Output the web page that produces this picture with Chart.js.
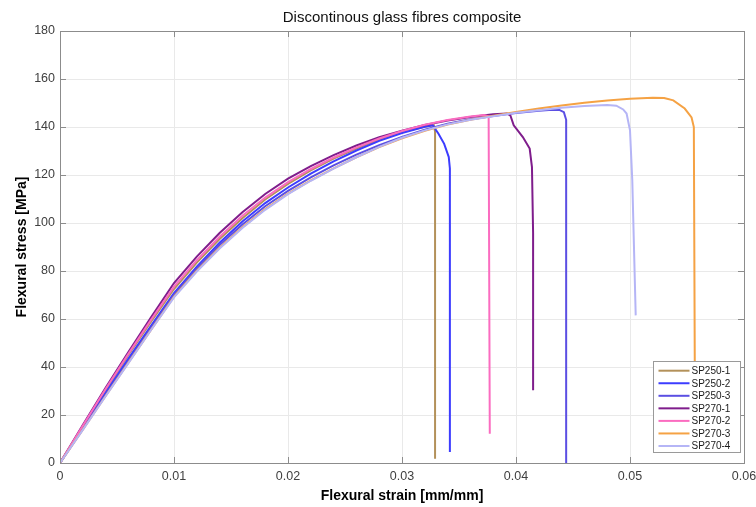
<!DOCTYPE html>
<html>
<head>
<meta charset="utf-8">
<script src="https://cdn.jsdelivr.net/npm/chart.js@4.4.1/dist/chart.umd.min.js"></script>
<style>
  html, body { margin: 0; padding: 0; background: #fff; }
  #wrap { width: 756px; height: 507px; }
</style>
</head>
<body>
<div id="wrap"><canvas id="g_flex"></canvas></div>
<script>
// courbes (deformation [mm/mm], contrainte [MPa])
const labels = ['SP250-1', 'SP250-2', 'SP250-3', 'SP270-1', 'SP270-2', 'SP270-3', 'SP270-4'];
const colors = ['#b3915a', '#3c3cff', '#5b4fe3', '#7f1d8c', '#fb6cc0', '#f5a244', '#b5b5f6'];

const strainSP250_1 = [0, 0.002, 0.004, 0.006, 0.008, 0.010, 0.012, 0.014, 0.016, 0.018, 0.020, 0.022, 0.024, 0.026, 0.028, 0.030, 0.032, 0.0328, 0.0329, 0.0329];
const stressSP250_1 = [0, 15.2, 30.3, 45, 59, 72.5, 83.5, 93.3, 102, 109.8, 116.3, 121.9, 126.8, 131, 134.8, 137.9, 140.1, 140.7, 138, 1.8];

const strainSP250_2 = [0, 0.002, 0.004, 0.006, 0.008, 0.010, 0.012, 0.014, 0.016, 0.018, 0.020, 0.022, 0.024, 0.026, 0.028, 0.030, 0.032, 0.0327, 0.0332, 0.0337, 0.0341, 0.0342, 0.0342];
const stressSP250_2 = [0, 14.6, 29.2, 43.5, 57.3, 70.8, 81.8, 91.8, 100.6, 108.3, 114.8, 120.6, 125.7, 130.2, 134.2, 137.5, 140.1, 140.7, 137.2, 133, 127.5, 122.7, 4.6];

const strainSP250_3 = [0, 0.002, 0.004, 0.006, 0.008, 0.010, 0.012, 0.014, 0.016, 0.018, 0.020, 0.022, 0.024, 0.026, 0.028, 0.030, 0.032, 0.034, 0.036, 0.038, 0.040, 0.042, 0.0432, 0.0438, 0.0442, 0.0444, 0.0444];
const stressSP250_3 = [0, 14.2, 28.4, 42.4, 56.4, 70.2, 81, 90.8, 99.4, 107, 113.4, 119, 124, 128.5, 132.4, 135.9, 138.9, 141.4, 143.2, 144.6, 145.8, 146.8, 147.2, 147.1, 146.2, 143, 0];

const strainSP270_1 = [0, 0.002, 0.004, 0.006, 0.008, 0.010, 0.012, 0.014, 0.016, 0.018, 0.020, 0.022, 0.024, 0.026, 0.028, 0.030, 0.032, 0.034, 0.036, 0.038, 0.0392, 0.0395, 0.0398, 0.0406, 0.0412, 0.0414, 0.0415, 0.0415];
const stressSP270_1 = [0, 15.8, 31.3, 46.2, 60.8, 75, 86, 95.8, 104.5, 112.1, 118.5, 123.7, 128.3, 132.3, 135.7, 138.5, 140.8, 142.7, 144.2, 145.3, 145.6, 144.9, 140.7, 135.8, 131, 123.3, 95.7, 30.3];

const strainSP270_2 = [0, 0.002, 0.004, 0.006, 0.008, 0.010, 0.012, 0.014, 0.016, 0.018, 0.020, 0.022, 0.024, 0.026, 0.028, 0.030, 0.032, 0.034, 0.036, 0.0372, 0.0376, 0.0377];
const stressSP270_2 = [0, 15.5, 30.8, 45.5, 59.8, 73.5, 84.5, 94.3, 103, 110.6, 117, 122.5, 127.3, 131.5, 135.2, 138.3, 140.9, 142.9, 144.4, 145, 144.5, 12.2];

const strainSP270_3 = [0, 0.002, 0.004, 0.006, 0.008, 0.010, 0.012, 0.014, 0.016, 0.018, 0.020, 0.022, 0.024, 0.026, 0.028, 0.030, 0.032, 0.034, 0.036, 0.038, 0.040, 0.042, 0.044, 0.046, 0.048, 0.050, 0.052, 0.0530, 0.0538, 0.0548, 0.0554, 0.0556, 0.0557];
const stressSP270_3 = [0, 13.9, 27.9, 41.8, 55.6, 69.3, 80.1, 89.7, 98.2, 105.8, 112.2, 117.8, 122.8, 127.4, 131.6, 135.3, 138.4, 141, 143, 144.7, 146.3, 147.7, 149, 150.1, 151, 151.8, 152.2, 152.1, 151.1, 147.7, 144, 140, 20];

const strainSP270_4 = [0, 0.002, 0.004, 0.006, 0.008, 0.010, 0.012, 0.014, 0.016, 0.018, 0.020, 0.022, 0.024, 0.026, 0.028, 0.030, 0.032, 0.034, 0.036, 0.038, 0.040, 0.042, 0.044, 0.046, 0.048, 0.0488, 0.0494, 0.0497, 0.0500, 0.0502, 0.0505];
const stressSP270_4 = [0, 13.8, 27.8, 41.6, 55.5, 69, 79.8, 89.4, 97.9, 105.5, 112, 117.6, 122.7, 127.4, 131.7, 135.5, 138.6, 141.1, 143, 144.5, 145.9, 147, 148, 148.7, 149.2, 148.9, 147.3, 145.6, 138.6, 117.8, 61.5];

const allStrain = [strainSP250_1, strainSP250_2, strainSP250_3, strainSP270_1, strainSP270_2, strainSP270_3, strainSP270_4];
const allStress = [stressSP250_1, stressSP250_2, stressSP250_3, stressSP270_1, stressSP270_2, stressSP270_3, stressSP270_4];

const xTicks = [0, 0.01, 0.02, 0.03, 0.04, 0.05, 0.06];
const yTicks = [0, 20, 40, 60, 80, 100, 120, 140, 160, 180];

function toPoints(xs, ys) {
    let pts = [];
    for (let i = 0; i < xs.length; i++) {
        pts.push({ x: xs[i], y: ys[i] });
    }
    return pts;
}

// cadre + petites graduations vers l'interieur (style matlab)
const boxPlugin = {
    id: 'box',
    afterDatasetsDraw(chart) {
        const ctx = chart.ctx;
        const a = chart.chartArea;
        const sx = chart.scales.x;
        const sy = chart.scales.y;
        const len = 6;
        ctx.save();
        ctx.strokeStyle = '#8c8c8c';
        ctx.lineWidth = 1;
        ctx.beginPath();
        xTicks.forEach(v => {
            const px = Math.round(sx.getPixelForValue(v)) + 0.5;
            ctx.moveTo(px, a.bottom); ctx.lineTo(px, a.bottom - len);
            ctx.moveTo(px, a.top); ctx.lineTo(px, a.top + len);
        });
        yTicks.forEach(v => {
            const py = Math.round(sy.getPixelForValue(v)) + 0.5;
            ctx.moveTo(a.left, py); ctx.lineTo(a.left + len, py);
            ctx.moveTo(a.right, py); ctx.lineTo(a.right - len, py);
        });
        ctx.stroke();
        ctx.strokeRect(Math.round(a.left) + 0.5, Math.round(a.top) + 0.5, Math.round(a.right - a.left), Math.round(a.bottom - a.top));

        // legende en bas a droite
        const bx = 653.5, by = 361.5, bw = 87, bh = 91;
        ctx.fillStyle = '#ffffff';
        ctx.fillRect(bx, by, bw, bh);
        ctx.strokeStyle = '#9a9a9a';
        ctx.strokeRect(bx, by, bw, bh);
        ctx.font = '10px "Liberation Sans", Arial, sans-serif';
        ctx.textBaseline = 'middle';
        ctx.textAlign = 'left';
        chart.data.datasets.forEach((ds, i) => {
            const ly = by + 9.2 + i * 12.55;
            ctx.strokeStyle = ds.borderColor;
            ctx.lineWidth = 2;
            ctx.beginPath();
            ctx.moveTo(bx + 5, ly); ctx.lineTo(bx + 36, ly);
            ctx.stroke();
            ctx.fillStyle = '#1a1a1a';
            ctx.fillText(ds.label, bx + 38, ly + 0.5);
        });
        ctx.restore();
    }
};

function drawChart() {
    const context = document.getElementById('g_flex').getContext('2d');

    let datasets = [];
    for (let i = 0; i < labels.length; i++) {
        datasets.push({
            label: labels[i],
            data: toPoints(allStrain[i], allStress[i]),
            borderColor: colors[i],
            backgroundColor: colors[i],
            borderWidth: 2,
            pointRadius: 0,
            tension: 0,
            fill: false,
            order: labels.length - i
        });
    }

    let options = {
        responsive: true,
        maintainAspectRatio: false,
        animation: false,
        layout: { padding: { right: 0 } },
        plugins: {
            legend: { display: false },
            tooltip: { enabled: false },
            title: {
                display: true,
                fullSize: false,
                text: 'Discontinous glass fibres composite',
                color: '#111',
                font: { family: '"Liberation Sans", Arial, sans-serif', size: 15, weight: 'normal' },
                padding: { top: 9, bottom: 4 }
            }
        },
        scales: {
            x: {
                type: 'linear',
                min: 0,
                max: 0.06,
                afterFit: s => { s.height = 44; s.paddingRight = 12; },
                afterBuildTicks: s => { s.ticks = xTicks.map(v => ({ value: v })); },
                ticks: {
                    color: '#404040',
                    padding: 6,
                    maxRotation: 0,
                    font: { family: '"Liberation Sans", Arial, sans-serif', size: 12.5 },
                    callback: v => String(parseFloat(v.toFixed(2)))
                },
                grid: { color: '#e9e9e9', drawTicks: false },
                border: { display: false },
                title: {
                    display: true,
                    text: 'Flexural strain [mm/mm]',
                    color: '#000',
                    font: { family: '"Liberation Sans", Arial, sans-serif', size: 14, weight: 'bold' },
                    padding: { top: 0, bottom: 2.6 }
                }
            },
            y: {
                type: 'linear',
                min: 0,
                max: 180,
                afterFit: s => { s.width = 60; },
                afterBuildTicks: s => { s.ticks = yTicks.map(v => ({ value: v })); },
                ticks: {
                    color: '#404040',
                    padding: 5,
                    font: { family: '"Liberation Sans", Arial, sans-serif', size: 12.5 }
                },
                grid: { color: '#e9e9e9', drawTicks: false },
                border: { display: false },
                title: {
                    display: true,
                    text: 'Flexural stress [MPa]',
                    color: '#000',
                    font: { family: '"Liberation Sans", Arial, sans-serif', size: 14, weight: 'bold' },
                    padding: { top: 13.6, bottom: 0 }
                }
            }
        }
    };

    let config = {
        type: 'line',
        data: { datasets: datasets },
        options: options,
        plugins: [boxPlugin]
    };

    let gFlex = new Chart(context, config);
}

window.addEventListener('load', () => {
    drawChart();
});
</script>
</body>
</html>
